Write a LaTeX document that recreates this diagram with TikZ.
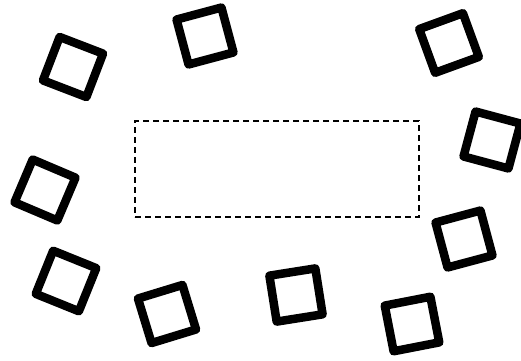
\documentclass[tikz,border=0pt]{standalone}
\usepackage{tikz}

\begin{document}
\begin{tikzpicture}[
    x=1pt, y=1pt,
    sq/.style={draw, line width=8.5pt, line join=round, minimum size=46.5pt, inner sep=0pt},
    zone/.style={draw, line width=1.4pt, dash pattern=on 6pt off 4pt, minimum width=284pt, minimum height=96pt, inner sep=0pt},
]
    \useasboundingbox (0,0) rectangle (521,360);
    \node[zone] (z) at (277,191) {};
    \node[sq, rotate=-21] (s1) at (73,293) {};
    \node[sq, rotate=15] (s2) at (205,324) {};
    \node[sq, rotate=20] (s3) at (449,317) {};
    \node[sq, rotate=-15] (s4) at (492,220) {};
    \node[sq, rotate=-23] (s5) at (45,170) {};
    \node[sq, rotate=-22] (s6) at (66,79) {};
    \node[sq, rotate=17] (s7) at (167,46) {};
    \node[sq, rotate=9] (s8) at (296,65) {};
    \node[sq, rotate=11] (s9) at (412,36) {};
    \node[sq, rotate=15] (s10) at (464,121) {};
\end{tikzpicture}
\end{document}
